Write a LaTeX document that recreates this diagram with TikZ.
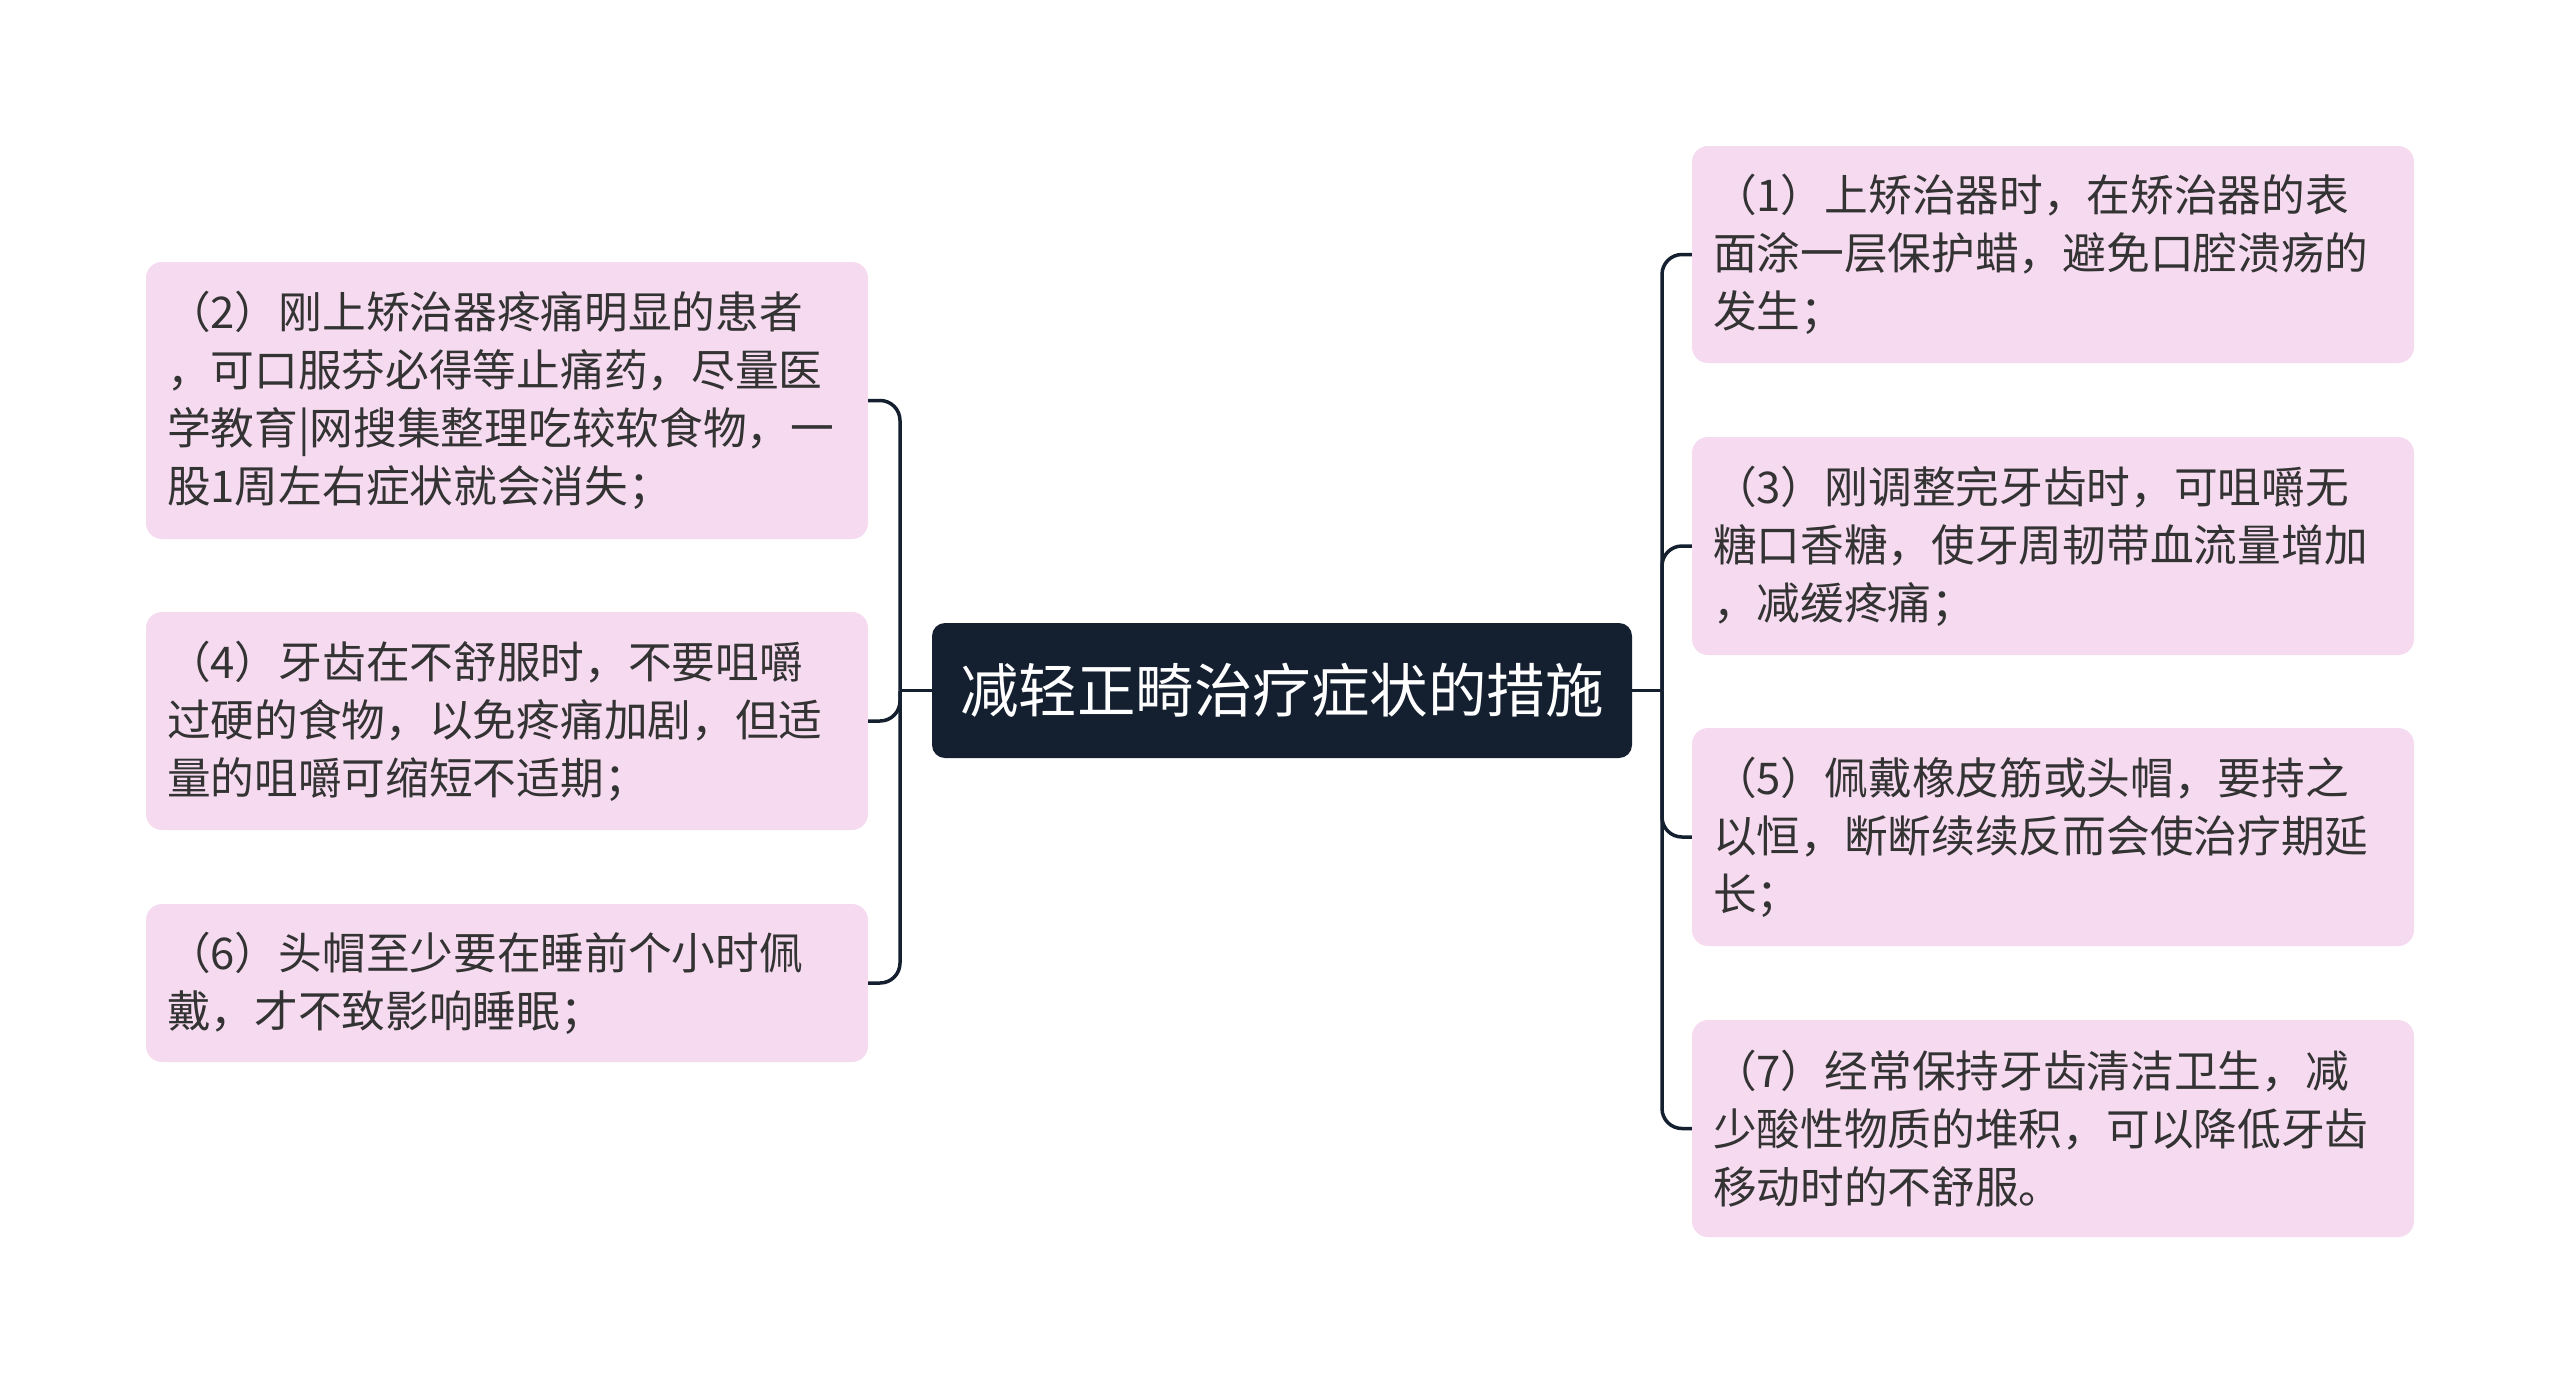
\documentclass[tikz,border=0pt]{standalone}
\usepackage{fontspec}
\setmainfont{Noto Sans CJK SC}
\begin{document}
\begin{tikzpicture}[x=1pt,y=-1pt,
  leaf/.style={fill=leafpink, rounded corners=16pt, text=textgray,
    text width=680pt, align=left, inner xsep=21pt, inner ysep=0pt,
    minimum width=722pt, font=\fontsize{43.7pt}{58pt}\selectfont},
  root/.style={fill=rootnavy, rounded corners=13pt, text=white,
    minimum width=700pt, minimum height=135pt, inner sep=0pt,
    font=\fontsize{58.5pt}{66pt}\selectfont},
  conn/.style={draw=rootnavy, line width=3.5pt, rounded corners=20pt}]
\definecolor{leafpink}{HTML}{F6DBF0}
\definecolor{rootnavy}{HTML}{142030}
\definecolor{textgray}{HTML}{333333}
\useasboundingbox (0,0) rectangle (2560,1382);
\fill[white] (0,0) rectangle (2560,1382);

\node[root] (c) at (1282,690.5) {减轻正畸治疗症状的措施};

\node[leaf, minimum height=217pt] (n1) at (2053,254.5) {（1）上矫治器时，在矫治器的表\\面涂一层保护蜡，避免口腔溃疡的\\发生；};
\node[leaf, minimum height=218pt] (n3) at (2053,546) {（3）刚调整完牙齿时，可咀嚼无\\糖口香糖，使牙周韧带血流量增加\\，减缓疼痛；};
\node[leaf, minimum height=218pt] (n5) at (2053,837) {（5）佩戴橡皮筋或头帽，要持之\\以恒，断断续续反而会使治疗期延\\长；};
\node[leaf, minimum height=217pt] (n7) at (2053,1128.5) {（7）经常保持牙齿清洁卫生，减\\少酸性物质的堆积，可以降低牙齿\\移动时的不舒服。};

\node[leaf, minimum height=277pt] (n2) at (507,400.5) {（2）刚上矫治器疼痛明显的患者\\，可口服芬必得等止痛药，尽量医\\学教育|网搜集整理吃较软食物，一\\股1周左右症状就会消失；};
\node[leaf, minimum height=218pt] (n4) at (507,721) {（4）牙齿在不舒服时，不要咀嚼\\过硬的食物，以免疼痛加剧，但适\\量的咀嚼可缩短不适期；};
\node[leaf, minimum height=158pt] (n6) at (507,983) {（6）头帽至少要在睡前个小时佩\\戴，才不致影响睡眠；};

\coordinate (lb) at (900,690.5);
\coordinate (rb) at (1662,690.5);

\draw[conn] (c.west) -- (lb);
\draw[conn] (c.east) -- (rb);
\foreach \n in {n2,n4,n6} \draw[conn] (lb) |- (\n.east);
\foreach \n in {n1,n3,n5,n7} \draw[conn] (rb) |- (\n.west);
\end{tikzpicture}
\end{document}
